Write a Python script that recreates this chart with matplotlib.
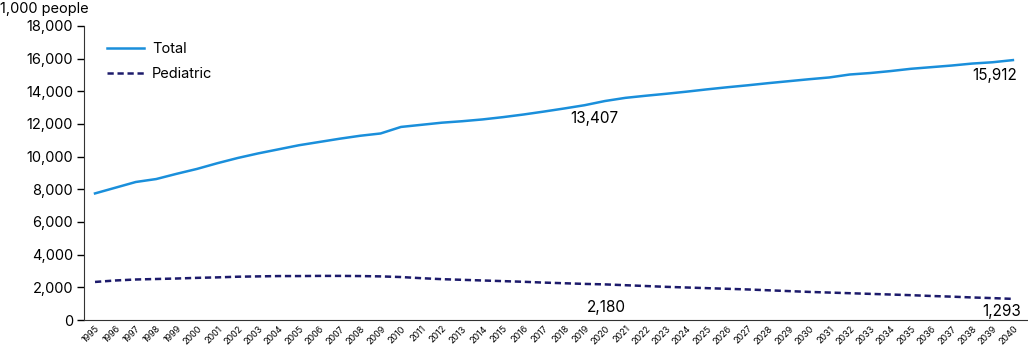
import matplotlib.pyplot as plt
import numpy as np

plt.rcParams['font.family'] = ['Inter', 'DejaVu Sans']

years = np.arange(1995, 2041)
total = [7750, 8100, 8450, 8630, 8950, 9250, 9600, 9920, 10200, 10450,
         10700, 10900, 11100, 11280, 11420, 11820, 11950, 12080, 12170, 12280,
         12420, 12580, 12760, 12950, 13150, 13407, 13600, 13730, 13850, 13980,
         14120, 14250, 14370, 14500, 14620, 14740, 14850, 15030, 15120, 15240,
         15380, 15480, 15580, 15700, 15780, 15912]
pediatric = [2330, 2420, 2480, 2510, 2540, 2580, 2610, 2650, 2670, 2690,
             2690, 2700, 2700, 2690, 2670, 2630, 2560, 2500, 2460, 2420,
             2380, 2340, 2290, 2250, 2210, 2180, 2130, 2080, 2030, 1990,
             1950, 1910, 1870, 1820, 1770, 1720, 1680, 1640, 1600, 1560,
             1520, 1470, 1430, 1380, 1340, 1293]
yticks = np.arange(0, 18001, 2000)

fig = plt.figure(figsize=(10.28, 3.49), dpi=100)
# left, bottom, width, height
ax = fig.add_axes([84 / 1028, 29 / 349, 944 / 1028, 294 / 349])

ax.plot(years, total, color='#1a8fdb', lw=1.8, label='Total')
ax.plot(years, pediatric, color='#1c1a6b', lw=1.8, ls=(0, (2.5, 1.5)), label='Pediatric')

ax.set_xlim(1994.46, 2040.74)
ax.set_ylim(0, 18000)
ax.set_xticks(years)
ax.set_xticklabels([str(y) for y in years], rotation=45, fontsize=6.5,
                   ha='right', rotation_mode='anchor')
ax.set_yticks(yticks)
ax.set_yticklabels(['{:,}'.format(v) for v in yticks], fontsize=10.5)
ax.tick_params(axis='x', length=0, pad=3)
ax.tick_params(axis='y', length=5, width=1, pad=3)
for s in ['top', 'right']:
    ax.spines[s].set_visible(False)
for s in ['left', 'bottom']:
    ax.spines[s].set_color('#333333')

fig.text(0.0, 0.975, '1,000 people', fontsize=10.5, ha='left', va='center')

ax.annotate('13,407', (2020, total[25]), xytext=(-8, -7), textcoords='offset points',
            ha='center', va='top', fontsize=11)
ax.annotate('15,912', (2040, total[-1]), xytext=(-13, -6), textcoords='offset points',
            ha='center', va='top', fontsize=11)
ax.annotate('2,180', (2020, pediatric[25]), xytext=(1, -11), textcoords='offset points',
            ha='center', va='top', fontsize=11)
ax.annotate('1,293', (2040, pediatric[-1]), xytext=(-8, -4), textcoords='offset points',
            ha='center', va='top', fontsize=11)

ax.legend(loc='upper left', bbox_to_anchor=(0.01, 0.99), frameon=False,
          fontsize=10.5, handlelength=2.6, handletextpad=0.5, labelspacing=0.75)

fig.savefig('out.png', dpi=100)
